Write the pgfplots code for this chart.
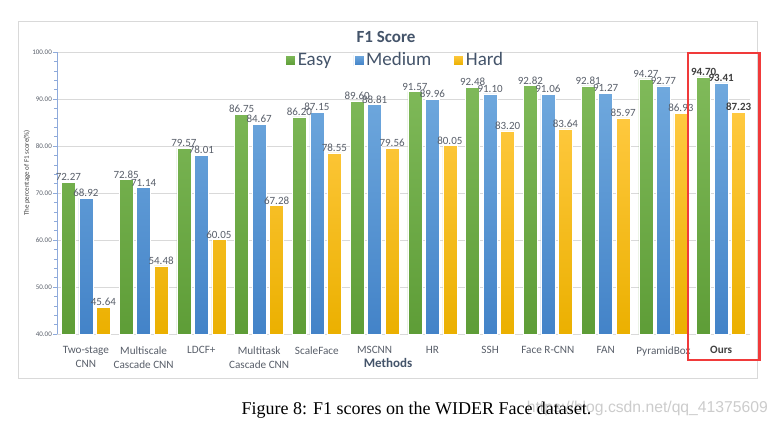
\documentclass[border=0pt]{standalone}
\usepackage{fontspec}
\setmainfont{Carlito}
\newfontfamily\timesfont{Liberation Serif}
\newfontfamily\arialfont{Liberation Sans}
\usepackage{pgfplots}
\usepackage{pgfplotstable}
\pgfplotsset{compat=1.18}
\definecolor{ezT}{HTML}{80BA5A}
\definecolor{ezB}{HTML}{5E9D37}
\definecolor{mdT}{HTML}{70A9DE}
\definecolor{mdB}{HTML}{4383C8}
\definecolor{hdT}{HTML}{FFC940}
\definecolor{hdB}{HTML}{EBB000}
\definecolor{slate}{HTML}{44546A}
\definecolor{lbl}{HTML}{595F6A}
\definecolor{dlbl}{HTML}{404040}
\definecolor{gridc}{HTML}{D9D9D9}
\definecolor{axisc}{HTML}{8EAADB}
\definecolor{redbox}{HTML}{F03A3A}
\pgfplotstableread{
idx easy medium hard
0 72.27 68.92 45.64
1 72.85 71.14 54.48
2 79.57 78.01 60.05
3 86.75 84.67 67.28
4 86.20 87.15 78.55
5 89.60 88.81 79.56
6 91.57 89.96 80.05
7 92.48 91.10 83.20
8 92.82 91.06 83.64
9 92.81 91.27 85.97
10 94.27 92.77 86.93
11 94.70 93.41 87.23
}\scores
\begin{document}
\begin{tikzpicture}[x=1pt,y=1pt]
\useasboundingbox (0,0) rectangle (779,424);
\fill[white] (0,0) rectangle (779,424);
\draw[gridc, line width=0.8pt] (18,46) rectangle (757,403);
\begin{axis}[
  at={(57pt,90pt)}, anchor=south west,
  scale only axis, width=693pt, height=282pt,
  xmin=-0.5, xmax=11.5, ymin=0, ymax=60,
  enlargelimits=false,
  axis lines*=left,
  ybar=3.5pt, bar width=14pt,
  clip=false,
  point meta=explicit,
  ytick={0,10,...,60},
  yticklabels={40.00,50.00,60.00,70.00,80.00,90.00,100.00},
  minor y tick num=4,
  ymajorgrids, major grid style={gridc, line width=0.8pt},
  tick align=outside,
  major tick length=4pt, minor tick length=3pt,
  y axis line style={axisc, line width=0.8pt},
  x axis line style={gridc, line width=0.8pt},
  ytick style={axisc, line width=0.6pt},
  minor tick style={axisc, line width=0.6pt},
  yticklabel style={font=\fontsize{7}{8}\selectfont, text=lbl, inner sep=1pt},
  xtick=data,
  xtick style={draw=none},
  xticklabels={{Two-stage\\CNN},{Multiscale\\Cascade CNN},{LDCF+},{Multitask\\Cascade CNN},{ScaleFace},{MSCNN},{HR},{SSH},{Face R-CNN},{FAN},{PyramidBox},{\bfseries\color{dlbl}Ours}},
  xticklabel style={align=center, font=\fontsize{11.2}{14}\selectfont, text=lbl, yshift=-5pt},
  nodes near coords={\ifnum\coordindex=11\relax\bfseries\color{dlbl}\fi\pgfmathprintnumber[fixed,fixed zerofill,precision=2,assume math mode=true]{\pgfplotspointmeta}},
  every node near coord/.append style={font=\fontsize{11}{13}\selectfont, text=lbl, inner sep=1.2pt},
  legend columns=3,
  legend style={draw=none, fill=none, at={(0.488,0.9716)}, anchor=center,
    font=\fontsize{19}{22}\selectfont, text=slate, inner sep=0pt,
    /tikz/every even column/.append style={column sep=20pt}},
]
\addplot[draw=white, line width=0.6pt, top color=ezT, bottom color=ezB,
  legend image code/.code={\shade[top color=ezT,bottom color=ezB] (0pt,-5pt) rectangle (10pt,5pt);}]
  table[x=idx, y expr=\thisrow{easy}-40, meta=easy] {\scores};
\addlegendentry{Easy}
\addplot[draw=white, line width=0.6pt, top color=mdT, bottom color=mdB,
  legend image code/.code={\shade[top color=mdT,bottom color=mdB] (0pt,-5pt) rectangle (10pt,5pt);}]
  table[x=idx, y expr=\thisrow{medium}-40, meta=medium] {\scores};
\addlegendentry{Medium}
\addplot[draw=white, line width=0.6pt, top color=hdT, bottom color=hdB,
  legend image code/.code={\shade[top color=hdT,bottom color=hdB] (0pt,-5pt) rectangle (10pt,5pt);}]
  table[x=idx, y expr=\thisrow{hard}-40, meta=hard] {\scores};
\addlegendentry{Hard}
\end{axis}
\node[font=\fontsize{17}{20}\selectfont\bfseries, text=slate] at (386,387) {F1 Score};
\node[font=\fontsize{13}{15}\selectfont\bfseries, text=slate] at (388,61) {Methods};
\node[rotate=90, font=\fontsize{7}{8}\selectfont, text=dlbl] at (27,251) {The percentage of F1 score(\%)};
\draw[redbox, line width=2.5pt] (688,64) rectangle (759.5,371);
\node[anchor=base east, font=\arialfont\fontsize{15.7}{18}\selectfont, text=black!20, inner sep=0pt] at (768,12) {https://blog.csdn.net/qq\_41375609};
\node[anchor=base, font=\timesfont\fontsize{18}{21}\selectfont, inner sep=0pt] at (416.5,9.3) {Figure 8: F1 scores on the WIDER Face dataset.};
\end{tikzpicture}
\end{document}
